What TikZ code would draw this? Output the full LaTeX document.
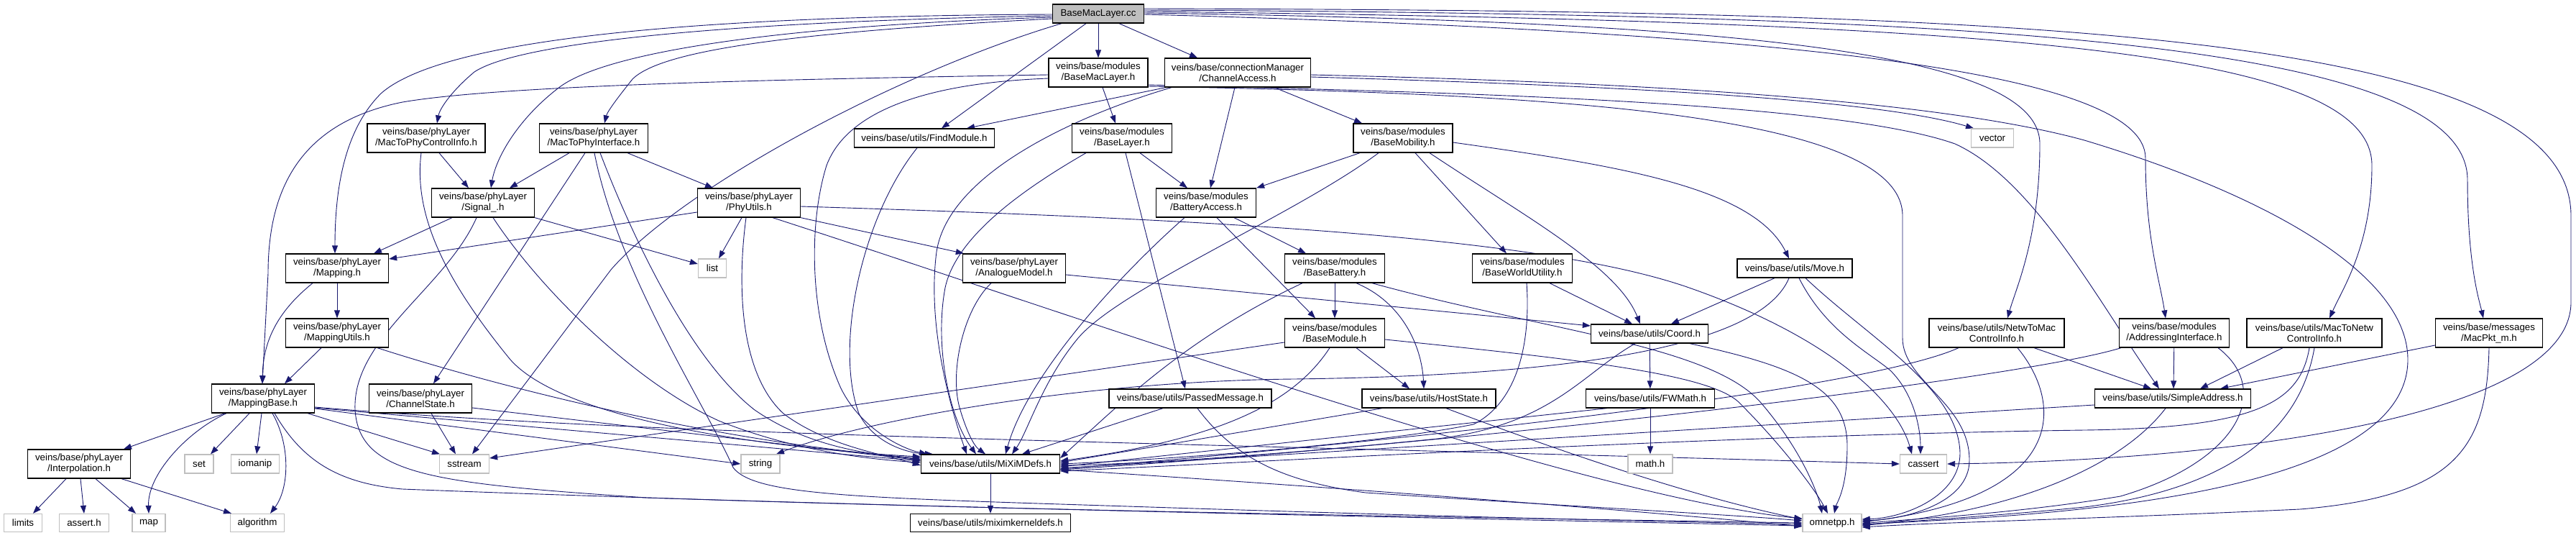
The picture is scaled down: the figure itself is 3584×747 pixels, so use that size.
\documentclass[tikz,border=0pt]{standalone}
\usepackage{fontspec}
\setmainfont{Liberation Sans}
\usetikzlibrary{arrows.meta}
\definecolor{edgec}{HTML}{191970}
\definecolor{sysc}{HTML}{BFBFBF}
\definecolor{ccfill}{HTML}{BFBFBF}
\newcommand\nodefont{\fontsize{13.3pt}{15pt}\selectfont}
\pgfdeclarelayer{edgelayer}
\pgfsetlayers{edgelayer,main}
\begin{document}
\begin{tikzpicture}[x=1pt,y=-1pt,
  e/.style={draw=edgec, line width=0.9pt, -{Triangle[length=11pt,width=8pt]}},
  hb/.style={draw=black, line width=1.3pt, fill=white, inner sep=0pt, align=center, font=\nodefont},
  sb/.style={draw=sysc, line width=1.3pt, fill=white, inner sep=0pt, align=center, font=\nodefont},
  w/.style={minimum width=#1pt},
  hh/.style={minimum height=#1pt}]
\useasboundingbox (0,0) rectangle (3584,747);

% ---------- nodes ----------
\node[hb, fill=ccfill, w=127, hh=26] (cc) at (1528,19) {BaseMacLayer.cc};
\node[hb, w=138, hh=40] (bml) at (1528,101) {veins/base/modules\\/BaseMacLayer.h};
\node[hb, w=203, hh=40] (ca) at (1722,101) {veins/base/connectionManager\\/ChannelAccess.h};
\node[hb, w=164, hh=40] (mpci) at (593,192) {veins/base/phyLayer\\/MacToPhyControlInfo.h};
\node[hb, w=151, hh=40] (mpi) at (826,192) {veins/base/phyLayer\\/MacToPhyInterface.h};
\node[hb, w=195, hh=26] (fm) at (1286,192) {veins/base/utils/FindModule.h};
\node[hb, w=139, hh=40] (bl) at (1561,192) {veins/base/modules\\/BaseLayer.h};
\node[hb, w=138, hh=40] (bmob) at (1952,192) {veins/base/modules\\/BaseMobility.h};
\node[sb, w=59, hh=26] (vec) at (2772,192) {vector};
\node[hb, w=143, hh=40] (sig) at (672,282) {veins/base/phyLayer\\/Signal\_.h};
\node[hb, w=143, hh=40] (pu) at (1042,282) {veins/base/phyLayer\\/PhyUtils.h};
\node[hb, w=139, hh=40] (ba) at (1678,282) {veins/base/modules\\/BatteryAccess.h};
\node[hb, w=143, hh=40] (map) at (469,373) {veins/base/phyLayer\\/Mapping.h};
\node[sb, w=39, hh=26] (list) at (991,373) {list};
\node[hb, w=143, hh=40] (am) at (1411,373) {veins/base/phyLayer\\/AnalogueModel.h};
\node[hb, w=139, hh=40] (bb) at (1857,373) {veins/base/modules\\/BaseBattery.h};
\node[hb, w=139, hh=40] (bwu) at (2118,373) {veins/base/modules\\/BaseWorldUtility.h};
\node[hb, w=160, hh=26] (move) at (2497,373) {veins/base/utils/Move.h};
\node[hb, w=143, hh=40] (mu) at (469,463) {veins/base/phyLayer\\/MappingUtils.h};
\node[hb, w=139, hh=40] (bmod) at (1857,463) {veins/base/modules\\/BaseModule.h};
\node[hb, w=163, hh=26] (coord) at (2295,464) {veins/base/utils/Coord.h};
\node[hb, w=188, hh=40] (n2m) at (2778,463) {veins/base/utils/NetwToMac\\ControlInfo.h};
\node[hb, w=153, hh=40] (ai) at (3025,463) {veins/base/modules\\/AddressingInterface.h};
\node[hb, w=188, hh=40] (m2n) at (3220,463) {veins/base/utils/MacToNetw\\ControlInfo.h};
\node[hb, w=149, hh=40] (mpkt) at (3463,463) {veins/base/messages\\/MacPkt\_m.h};
\node[hb, w=143, hh=40] (mb) at (366,554) {veins/base/phyLayer\\/MappingBase.h};
\node[hb, w=143, hh=40] (cs) at (585,554) {veins/base/phyLayer\\/ChannelState.h};
\node[hb, w=226, hh=26] (pm) at (1656,554) {veins/base/utils/PassedMessage.h};
\node[hb, w=186, hh=26] (hs) at (1988,554) {veins/base/utils/HostState.h};
\node[hb, w=179, hh=26] (fw) at (2296,554) {veins/base/utils/FWMath.h};
\node[hb, w=217, hh=26] (sa) at (3023,554) {veins/base/utils/SimpleAddress.h};
\node[hb, w=143, hh=40] (interp) at (110,645) {veins/base/phyLayer\\/Interpolation.h};
\node[sb, w=40, hh=26] (set) at (277,645) {set};
\node[sb, w=67, hh=26] (ioman) at (355,645) {iomanip};
\node[sb, w=69, hh=26] (ss) at (646,645) {sstream};
\node[sb, w=54, hh=26] (str) at (1058,645) {string};
\node[hb, w=193, hh=26] (mx) at (1378,645) {veins/base/utils/MiXiMDefs.h};
\node[sb, w=62, hh=26] (mathh) at (2296,645) {math.h};
\node[sb, w=65, hh=26] (cas) at (2676,645) {cassert};
\node[sb, w=53, hh=25] (lim) at (32,727) {limits};
\node[sb, w=69, hh=25] (ash) at (117,727) {assert.h};
\node[sb, w=46, hh=25] (mp) at (207,727) {map};
\node[sb, w=75, hh=25] (alg) at (358,727) {algorithm};
\node[hb, w=223, hh=25] (kd) at (1378,727) {veins/base/utils/miximkerneldefs.h};
\node[sb, w=82, hh=25] (om) at (2549,727) {omnetpp.h};

\begin{pgfonlayer}{edgelayer}
\fill[white] (0,0) rectangle (3584,747);
% ---------- edges ----------
% BaseMacLayer.cc
\draw[e] (cc) -- (bml);
\draw[e] ([xshift=29pt]cc.south) -- ([xshift=-56pt]ca.north);
\draw[e] ([xshift=-17pt]cc.south) -- ([xshift=24pt]fm.north);
\draw[e] ([xshift=-51pt]cc.south) .. controls (1250,100) and (950,260) .. (850,375) -- ([xshift=11pt]ss.north);
\draw[e] ([yshift=-1pt]cc.west) .. controls (1000,22) and (620,50) .. (530,130) .. controls (480,180) and (466,260) .. ([xshift=-3pt]map.north);
\draw[e] ([yshift=-3pt]cc.west) .. controls (1000,30) and (720,60) .. (660,100) .. controls (630,125) and (612,150) .. ([xshift=15pt]mpci.north);
\draw[e] ([yshift=-5pt]cc.west) .. controls (1100,35) and (850,70) .. (780,120) .. controls (720,165) and (690,220) .. ([xshift=11pt]sig.north);
\draw[e] ([yshift=-7pt]cc.west) .. controls (1100,45) and (920,70) .. (880,110) .. controls (860,135) and (845,155) .. ([xshift=15pt]mpi.north);
\draw[e] ([yshift=1pt]cc.east) .. controls (2400,30) and (2838,70) .. (2838,200) .. controls (2838,330) and (2805,400) .. ([xshift=15pt]n2m.north);
\draw[e] ([yshift=-1pt]cc.east) .. controls (2500,45) and (2985,100) .. (2985,220) .. controls (2985,330) and (3005,390) .. ([xshift=-12pt]ai.north);
\draw[e] ([yshift=3pt]cc.east) .. controls (2800,30) and (3300,70) .. (3300,230) .. controls (3300,340) and (3260,400) .. ([xshift=21pt]m2n.north);
\draw[e] ([yshift=5pt]cc.east) .. controls (2700,20) and (3433,50) .. (3433,250) .. controls (3433,370) and (3450,420) .. ([xshift=-8pt]mpkt.north);
\draw[e] ([yshift=7pt]cc.east) .. controls (2800,15) and (3577,40) .. (3577,300) -- (3577,420) .. controls (3577,580) and (3100,640) .. (cas.east);

% BaseMacLayer.h
\draw[e] ([xshift=6pt]bml.south) -- ([xshift=-9pt]bl.north);
\draw[e] ([yshift=-3pt]bml.west) .. controls (1100,110) and (700,118) .. (560,142) .. controls (420,170) and (373,260) .. (373,380) -- ([xshift=-1pt]mb.north);
\draw[e] ([yshift=-8pt]bml.west) .. controls (1300,115) and (1180,150) .. (1150,230) .. controls (1125,310) and (1125,440) .. (1170,540) .. controls (1200,600) and (1260,625) .. ([xshift=-88pt]mx.north);
\draw[e] ([yshift=-17pt]bml.east) .. controls (2000,128) and (2550,140) .. (2720,200) .. controls (2830,250) and (2920,420) .. ([xshift=-19pt]sa.north);
\draw[e] ([yshift=-19pt]bml.east) .. controls (2100,130) and (2647,150) .. (2647,300) -- (2647,470) .. controls (2647,530) and (2740,560) .. (2740,640) .. controls (2740,700) and (2650,722) .. ([yshift=3pt]om.east);

% ChannelAccess.h
\draw[e] ([xshift=2pt]ca.south west) -- ([xshift=59pt]fm.north);
\draw[e] ([xshift=-4pt]ca.south) -- ([xshift=6pt]ba.north);
\draw[e] ([xshift=51pt]ca.south) -- ([xshift=-57pt]bmob.north);
\draw[e] ([xshift=10pt]ca.south west) .. controls (1500,160) and (1320,240) .. (1303,350) .. controls (1290,450) and (1320,560) .. ([xshift=-33pt]mx.north);
\draw[e] ([yshift=-3pt]ca.east) .. controls (2300,115) and (2700,140) .. (2900,195) .. controls (3150,270) and (3350,380) .. (3350,500) .. controls (3350,700) and (2800,718) .. ([yshift=-2pt]om.east);
\draw[e] ([yshift=-6pt]ca.east) .. controls (2200,118) and (2600,135) .. ([xshift=-26pt]vec.north);

% MacToPhyControlInfo.h
\draw[e] ([xshift=18pt]mpci.south) -- ([xshift=-20pt]sig.north);
\draw[e] ([xshift=-7pt]mpci.south) .. controls (575,300) and (620,390) .. (710,500) .. controls (790,590) and (1100,625) .. ([yshift=10pt]mx.west);

% MacToPhyInterface.h
\draw[e] ([xshift=-34pt]mpi.south) -- ([xshift=37pt]sig.north);
\draw[e] ([xshift=-12pt]mpi.south) -- ([xshift=18pt]cs.north);
\draw[e] ([xshift=1pt]mpi.south) .. controls (860,380) and (980,560) .. (1020,650) .. controls (1050,690) and (1200,692) .. (1600,705) .. controls (2000,718) and (2300,725) .. ([yshift=-2pt]om.west);
\draw[e] ([xshift=9pt]mpi.south) .. controls (880,330) and (960,500) .. (1050,570) .. controls (1130,625) and (1220,632) .. ([yshift=6pt]mx.west);
\draw[e] ([xshift=47pt]mpi.south) -- ([xshift=-50pt]pu.north);

% Signal_.h
\draw[e] ([xshift=-43pt]sig.south) -- ([xshift=51pt]map.north);
\draw[e] (sig.south east) -- ([yshift=6pt]list.west);
\draw[e] ([xshift=14pt]sig.south) .. controls (750,400) and (880,530) .. (1000,585) .. controls (1100,625) and (1200,638) .. ([yshift=2pt]mx.west);
\draw[e] ([xshift=-9pt]sig.south) .. controls (620,400) and (490,470) .. (494,570) .. controls (500,660) and (600,672) .. (900,692) .. controls (1500,712) and (2200,722) .. (om.west);

% PhyUtils.h
\draw[e] ([yshift=-13pt]pu.west) -- ([yshift=13pt]map.east);
\draw[e] ([xshift=-10pt]pu.south) -- ([xshift=9pt]list.north);
\draw[e] ([xshift=-4pt]pu.south) .. controls (1025,400) and (1030,520) .. (1090,575) .. controls (1150,620) and (1230,632) .. ([yshift=-2pt]mx.west);
\draw[e] (pu.south east) -- ([xshift=2pt]am.north west);
\draw[e] ([xshift=33pt]pu.south) .. controls (1500,440) and (2200,690) .. ([yshift=6pt]om.west);
\draw[e] ([yshift=-5pt]pu.east) .. controls (1700,305) and (2150,330) .. (2350,400) .. controls (2550,470) and (2640,560) .. ([xshift=-16pt]cas.north);

% Mapping.h, MappingUtils.h
\draw[e] (map) -- (mu);
\draw[e] ([xshift=-34pt]map.south) .. controls (390,430) and (366,470) .. ([xshift=-1pt]mb.north);
\draw[e] ([xshift=-22pt]mu.south) -- ([xshift=30pt]mb.north);
\draw[e] ([xshift=56pt]mu.south) .. controls (700,540) and (1000,615) .. ([yshift=8pt]mx.west);

% MappingBase.h
\draw[e] ([xshift=-53pt]mb.south) -- ([xshift=62pt]interp.north);
\draw[e] ([xshift=-19pt]mb.south) -- ([xshift=16pt]set.north);
\draw[e] ([xshift=-2pt]mb.south) -- ([xshift=2pt]ioman.north);
\draw[e] ([xshift=62pt]mb.south) -- ([xshift=-34pt]ss.north);
\draw[e] ([xshift=-51pt]mb.south) .. controls (260,600) and (205,660) .. (mp.north);
\draw[e] ([xshift=13pt]mb.south) .. controls (405,620) and (402,680) .. ([xshift=18pt]alg.north);
\draw[e] ([yshift=-14pt]mb.east) -- (str.west);
\draw[e] ([yshift=-13pt]mb.east) -- ([yshift=4pt]mx.west);
\draw[e] ([yshift=-12pt]mb.east) .. controls (900,605) and (1500,612) .. (cas.west);
\draw[e] ([xshift=16pt]mb.south) .. controls (420,640) and (470,672) .. (560,680) .. controls (1200,705) and (2000,720) .. ([yshift=-4pt]om.west);

% Interpolation.h
\draw[e] ([xshift=-18pt]interp.south) -- ([xshift=14pt]lim.north);
\draw[e] ([xshift=2pt]interp.south) -- (ash.north);
\draw[e] ([xshift=23pt]interp.south) -- ([xshift=-18pt]mp.north);
\draw[e] ([xshift=59pt]interp.south) -- ([xshift=-36pt]alg.north);

% ChannelState.h
\draw[e] ([xshift=15pt]cs.south) -- ([xshift=-12pt]ss.north);
\draw[e] ([yshift=-13pt]cs.east) -- ([yshift=5pt]mx.west);

% FindModule.h
\draw[e] ([xshift=-10pt]fm.south) .. controls (1200,300) and (1160,480) .. (1195,575) .. controls (1215,615) and (1260,630) .. ([xshift=-80pt]mx.north);

% BaseLayer.h
\draw[e] ([xshift=25pt]bl.south) -- ([xshift=-26pt]ba.north);
\draw[e] ([xshift=5pt]bl.south) -- ([xshift=-7pt]pm.north);
\draw[e] ([xshift=-50pt]bl.south) .. controls (1420,265) and (1330,330) .. (1315,400) .. controls (1300,480) and (1320,580) .. ([xshift=-20pt]mx.north);

% AnalogueModel.h
\draw[e] ([xshift=-32pt]am.south) .. controls (1340,430) and (1320,520) .. (1336,570) .. controls (1345,600) and (1355,620) .. ([xshift=-7pt]mx.north);
\draw[e] ([yshift=-9pt]am.east) -- ([yshift=11pt]coord.west);

% BatteryAccess.h
\draw[e] ([xshift=39pt]ba.south) -- ([xshift=-40pt]bb.north);
\draw[e] ([xshift=15pt]ba.south) -- ([xshift=-27pt]bmod.north);
\draw[e] ([xshift=-30pt]ba.south) .. controls (1560,380) and (1430,520) .. ([xshift=21pt]mx.north);

% BaseMobility.h
\draw[e] ([xshift=-60pt]bmob.south) -- (ba.north east);
\draw[e] ([xshift=-34pt]bmob.south) .. controls (1800,300) and (1560,400) .. (1500,470) .. controls (1450,530) and (1430,600) .. ([xshift=30pt]mx.north);
\draw[e] ([xshift=17pt]bmob.south) -- ([xshift=-22pt]bwu.north);
\draw[e] ([xshift=37pt]bmob.south) .. controls (2120,300) and (2250,370) .. ([xshift=-13pt]coord.north);
\draw[e] ([yshift=-6pt]bmob.east) .. controls (2250,230) and (2440,260) .. ([xshift=-8pt]move.north);

% BaseBattery.h
\draw[e] (bb) -- (bmod);
\draw[e] ([xshift=30pt]bb.south) .. controls (1950,420) and (1978,480) .. ([xshift=-7pt]hs.north);
\draw[e] ([xshift=-45pt]bb.south) .. controls (1650,470) and (1560,560) .. ([yshift=8pt]mx.east);
\draw[e] ([xshift=52pt]bb.south) .. controls (2150,460) and (2380,480) .. (2450,560) .. controls (2510,630) and (2530,690) .. ([xshift=-14pt]om.north);

% BaseModule.h
\draw[e] ([xshift=30pt]bmod.south) -- ([xshift=-27pt]hs.north);
\draw[e] ([xshift=-7pt]bmod.south) .. controls (1800,560) and (1700,610) .. ([yshift=4pt]mx.east);
\draw[e] ([yshift=-13pt]bmod.west) -- ([yshift=8pt]ss.east);
\draw[e] ([yshift=-9pt]bmod.east) .. controls (2200,500) and (2380,520) .. (2420,560) .. controls (2480,620) and (2525,680) .. ([xshift=-6pt]om.north);

% BaseWorldUtility.h
\draw[e] ([xshift=38pt]bwu.south) -- ([xshift=-24pt]coord.north);
\draw[e] ([xshift=6pt]bwu.south) .. controls (2130,480) and (2110,560) .. (2050,590) .. controls (1900,620) and (1600,640) .. (mx.east);

% Move.h
\draw[e] ([xshift=-28pt]move.south) -- ([xshift=30pt]coord.north);
\draw[e] ([xshift=-8pt]move.south) .. controls (2450,480) and (2200,522) .. (1800,527) .. controls (1500,530) and (1200,585) .. ([xshift=22pt]str.north);
\draw[e] ([xshift=6pt]move.south) .. controls (2540,460) and (2600,490) .. (2630,515) .. controls (2665,550) and (2672,600) .. ([xshift=-4pt]cas.north);
\draw[e] ([xshift=15pt]move.south) .. controls (2600,470) and (2725,540) .. (2727,630) .. controls (2727,690) and (2650,720) .. ([yshift=5pt]om.east);

% Coord.h
\draw[e] (coord) -- (fw);
\draw[e] ([xshift=-20pt]coord.south) .. controls (2200,520) and (2160,590) .. (2000,610) .. controls (1800,630) and (1600,645) .. ([yshift=-2pt]mx.east);
\draw[e] ([xshift=56pt]coord.south) .. controls (2500,510) and (2570,540) .. (2570,620) .. controls (2570,680) and (2555,700) .. ([xshift=3pt]om.north);

% FWMath.h, HostState.h, PassedMessage.h
\draw[e] (fw) -- (mathh);
\draw[e] ([xshift=-60pt]fw.south) -- ([yshift=-4pt]mx.east);
\draw[e] ([xshift=-65pt]hs.south) -- ([yshift=2pt]mx.east);
\draw[e] ([xshift=24pt]hs.south) .. controls (2150,620) and (2350,690) .. ([yshift=5pt]om.west);
\draw[e] ([xshift=-38pt]pm.south) -- ([xshift=44pt]mx.north);
\draw[e] ([xshift=10pt]pm.south) .. controls (1720,640) and (1790,670) .. (1900,685) .. controls (2200,705) and (2400,715) .. ([yshift=3pt]om.west);

% MiXiMDefs.h
\draw[e] (mx) -- (kd);
\draw[e] ([yshift=-8pt]mx.east) .. controls (1900,680) and (2300,712) .. ([yshift=-5pt]om.west);

% SimpleAddress.h
\draw[e] ([yshift=-9pt]sa.west) -- ([yshift=-6pt]mx.east);
\draw[e] ([xshift=-10pt]sa.south) .. controls (2950,650) and (2800,712) .. ([yshift=-3pt]om.east);

% NetwToMacControlInfo.h
\draw[e] ([xshift=52pt]n2m.south) -- ([xshift=-30pt]sa.north);
\draw[e] ([xshift=-53pt]n2m.south) .. controls (2600,540) and (2000,610) .. ([yshift=-7pt]mx.east);
\draw[e] ([xshift=29pt]n2m.south) .. controls (2870,560) and (2880,690) .. ([yshift=1pt]om.east);

% AddressingInterface.h
\draw[e] (ai) -- ([xshift=1pt]sa.north);
\draw[e] ([xshift=-74pt]ai.south) .. controls (2800,530) and (2000,620) .. ([yshift=-8pt]mx.east);
\draw[e] ([xshift=61pt]ai.south) .. controls (3160,540) and (3120,640) .. (2950,690) .. controls (2800,715) and (2650,722) .. ([yshift=-1pt]om.east);

% MacToNetwControlInfo.h
\draw[e] ([xshift=-44pt]m2n.south) -- ([xshift=38pt]sa.north);
\draw[e] ([xshift=-7pt]m2n.south) .. controls (3200,560) and (3140,595) .. (2900,598) .. controls (2400,605) and (1800,640) .. ([yshift=-10pt]mx.east);
\draw[e] (m2n.south) .. controls (3200,600) and (3100,680) .. (2900,705) .. controls (2750,720) and (2650,724) .. ([yshift=-4pt]om.east);

% MacPkt_m.h
\draw[e] ([yshift=-17pt]mpkt.west) -- ([xshift=-43pt]sa.north east);
\draw[e] (mpkt.south) .. controls (3460,620) and (3420,690) .. (3200,708) .. controls (2900,722) and (2700,726) .. ([yshift=-6pt]om.east);
\end{pgfonlayer}
\end{tikzpicture}
\end{document}
